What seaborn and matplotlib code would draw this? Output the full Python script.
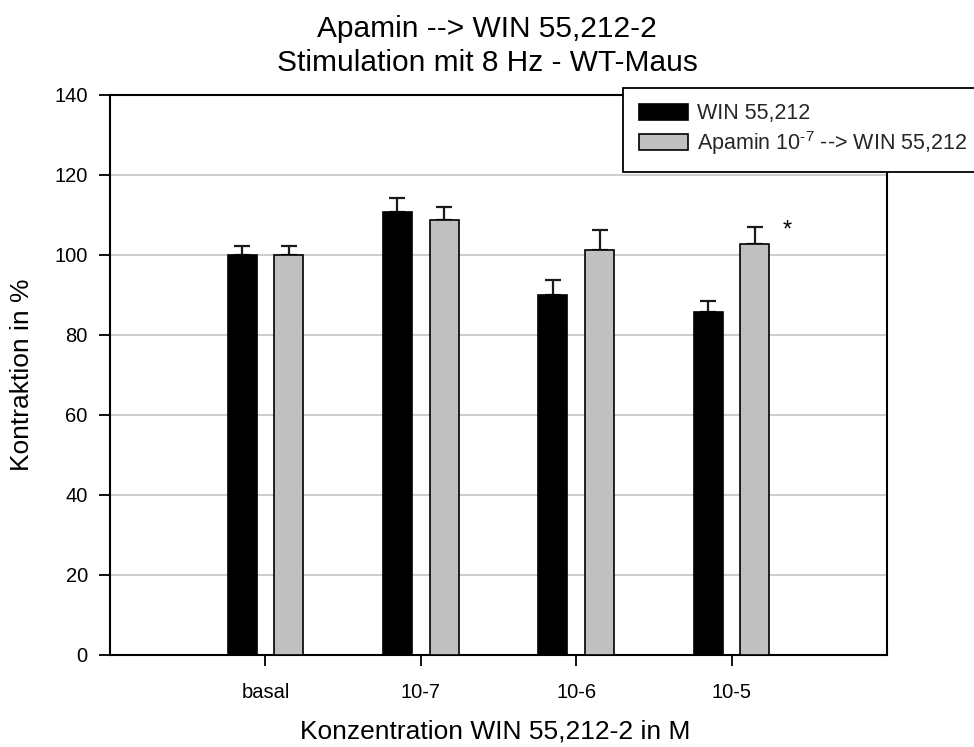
import numpy as np
import pandas as pd
import matplotlib
matplotlib.use("Agg")
import matplotlib.pyplot as plt
import seaborn as sns

# Concentrations of WIN 55,212-2 and the two treatment series
categories = ["basal", "10-7", "10-6", "10-5"]
series_names = ["WIN 55,212", r"Apamin 10$^{\text{-7}}$ --> WIN 55,212"]
win_mean = [100.0, 110.7, 90.1, 85.7]
win_sem = [2.2, 3.5, 3.65, 2.9]
apamin_mean = [100.0, 108.75, 101.3, 102.75]
apamin_sem = [2.2, 3.3, 5.0, 4.35]
y_ticks = [0, 20, 40, 60, 80, 100, 120, 140]

df = pd.DataFrame({
    "Konzentration": categories * 2,
    "Serie": [series_names[0]] * 4 + [series_names[1]] * 4,
    "Kontraktion": win_mean + apamin_mean,
    "SEM": win_sem + apamin_sem,
})

sns.set_theme(style="white")
plt.rcParams["font.family"] = ["Liberation Sans", "DejaVu Sans"]
plt.rcParams["mathtext.fontset"] = "custom"
plt.rcParams["mathtext.rm"] = "Liberation Sans"

fig = plt.figure(figsize=(9.74, 7.47), dpi=100)
ax = fig.add_axes([110 / 974, 1 - 655 / 747, (887 - 110) / 974, (655 - 95) / 747])

sns.barplot(
    data=df, x="Konzentration", y="Kontraktion", hue="Serie",
    order=categories, hue_order=series_names,
    palette=["#000000", "#c0c0c0"], width=0.6, gap=0.375,
    errorbar=None, edgecolor="#000000", linewidth=1.2,
    saturation=1, ax=ax, zorder=3, legend=True,
)

# one-sided (upward) error bars on top of each bar
bars = [p for p in ax.patches if p.get_height() > 0][:8]
for p, (_, row) in zip(bars, df.iterrows()):
    xc = p.get_x() + p.get_width() / 2
    ax.errorbar(xc, row["Kontraktion"], yerr=[[0], [row["SEM"]]],
                fmt="none", ecolor="#1a1a1a", elinewidth=1.6,
                capsize=6, capthick=1.6, zorder=2)

# significance marker
ax.text(3.36, 106.0, "*", ha="center", va="center", fontsize=17, color="#000000")

ax.set_xlim(-1, 4)
ax.set_ylim(0, 140)
ax.set_yticks(y_ticks)
ax.yaxis.grid(True, color="#c8c8c8", linewidth=1.3, zorder=0)
ax.xaxis.grid(False)
ax.set_axisbelow(True)
for s in ax.spines.values():
    s.set_visible(True)
    s.set_color("#000000")
    s.set_linewidth(1.5)
ax.tick_params(axis="both", which="both", direction="out", length=8, width=1.3,
               color="#000000", labelsize=14.5, labelcolor="#000000",
               bottom=True, left=True, pad=8)
ax.tick_params(axis="x", pad=12)

ax.set_xlabel("Konzentration WIN 55,212-2 in M", fontsize=19, color="#000000")
ax.xaxis.label.set_va("baseline")
ax.xaxis.set_label_coords(0.4955, (655 - 738) / 560)
ax.set_ylabel("Kontraktion in %", fontsize=19, color="#000000")
ax.yaxis.label.set_va("center")
ax.yaxis.set_label_coords((22 - 110) / 777, 0.5)

fig.text(0.5, 1 - 37 / 747, "Apamin --> WIN 55,212-2", ha="center", va="baseline",
         fontsize=21.5, color="#000000")
fig.text(0.5, 1 - 71 / 747, "Stimulation mit 8 Hz - WT-Maus", ha="center", va="baseline",
         fontsize=21.5, color="#000000")

handles, labels = ax.get_legend_handles_labels()
ax.get_legend().remove()
leg = fig.legend(handles, labels, loc="upper left",
                 bbox_to_anchor=(623 / 974, 1 - 88 / 747),
                 frameon=True, fancybox=False, fontsize=15.5,
                 handlelength=2.32, handleheight=0.79, handletextpad=0.4,
                 labelspacing=0.2, borderpad=0.72, borderaxespad=0)
leg.get_frame().set_edgecolor("#000000")
leg.get_frame().set_linewidth(1.3)
leg.get_frame().set_alpha(1)
leg.set_zorder(10)

fig.savefig("out.png", dpi=100, facecolor="white")
